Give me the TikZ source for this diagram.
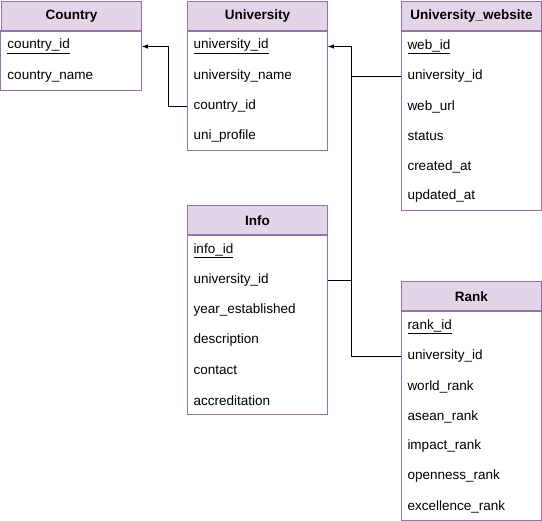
\documentclass[tikz,border=0pt]{standalone}
\usepackage{fontspec}
\setmainfont{Liberation Sans}
\definecolor{headfill}{HTML}{E1D5E7}
\definecolor{frame}{HTML}{9673A6}
\tikzset{
  head/.style={draw=frame, fill=headfill, line width=1pt, minimum width=140pt, minimum height=30pt, anchor=north west, font=\fontsize{13.5}{15}\selectfont\bfseries},
  row/.style={minimum width=140pt, minimum height=30pt, text width=128pt, inner xsep=6pt, inner ysep=0pt, align=left, anchor=north west, font=\fontsize{13.5}{15}\selectfont},
  body/.style={draw=frame, line width=1pt}
}
\begin{document}
\begin{tikzpicture}[x=1pt, y=-1pt, >=latex, line width=1pt]
\useasboundingbox (-1,-1) rectangle (541,520);

% Country
\node[head] (country) at (0,0) {Country};
\draw[body] (0,30) rectangle (140,90);
\foreach \f [count=\i] in {\underline{country\_id}, country\_name}
  \node[row] (country-\i) at (0,30*\i) {\f};

% University
\node[head] (uni) at (186,0) {University};
\draw[body] (186,30) rectangle (326,150);
\foreach \f [count=\i] in {\underline{university\_id}, university\_name, country\_id, uni\_profile}
  \node[row] (uni-\i) at (186,30*\i) {\f};

% University_website
\node[head] (web) at (400,0) {University\_website};
\draw[body] (400,30) rectangle (540,210);
\foreach \f [count=\i] in {\underline{web\_id}, university\_id, web\_url, status, created\_at, updated\_at}
  \node[row] (web-\i) at (400,30*\i) {\f};

% Info
\node[head] (info) at (186,204) {Info};
\draw[body] (186,234) rectangle (326,414);
\foreach \f [count=\i] in {\underline{info\_id}, university\_id, year\_established, description, contact, accreditation}
  \node[row] (info-\i) at (186,204+30*\i) {\f};

% Rank
\node[head] (rank) at (400,280) {Rank};
\draw[body] (400,310) rectangle (540,520);
\foreach \f [count=\i] in {\underline{rank\_id}, university\_id, world\_rank, asean\_rank, impact\_rank, openness\_rank, excellence\_rank}
  \node[row] (rank-\i) at (400,280+30*\i) {\f};

% foreign keys
\draw[->] (uni-3.west) -- ++(-19,0) |- (country-1.east);
\draw[->] (web-2.west) -- ++(-50,0) coordinate (j) |- (uni-1.east);
\draw (info-2.east) -- (info-2.east -| j);
\draw (rank-2.west) -| (j);
\end{tikzpicture}
\end{document}
